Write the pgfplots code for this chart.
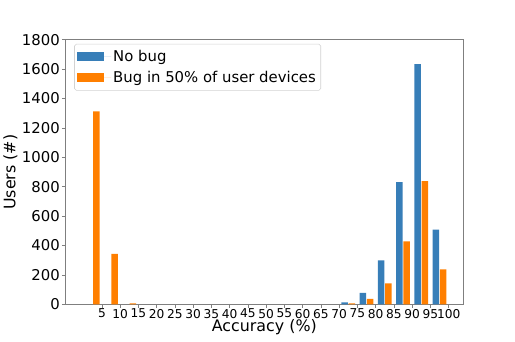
\documentclass[border=0pt]{standalone}
\usepackage{fontspec}
\setmainfont{DejaVu Sans}
\usepackage{pgfplots}
\pgfplotsset{compat=1.18}
\usetikzlibrary{calc}
\definecolor{nobug}{HTML}{377EB8}
\definecolor{withbug}{HTML}{FF7F00}
\definecolor{spine}{HTML}{7F7F7F}

\begin{document}
\begin{tikzpicture}[font=\fontsize{15}{17}\selectfont]
\begin{axis}[
    scale only axis,
    width=400bp, height=266bp,
    xmin=-5, xmax=104,
    ymin=0, ymax=1800,
    xtick={5,10,...,100},
    ytick={0,200,...,1800},
    tick align=outside,
    xtick pos=bottom, ytick pos=left,
    major tick length=3.5bp,
    axis line style={spine, line width=0.8pt},
    every tick/.style={spine, line width=0.8pt},
    xticklabel style={font=\fontsize{12.3}{14}\selectfont, inner sep=1pt},
    yticklabel style={font=\fontsize{15}{17}\selectfont, inner sep=2pt},
    /pgf/number format/assume math mode=true,
    /pgf/number format/1000 sep={},
    xlabel={Accuracy (\%)},
    ylabel={Users (\#)},
    label style={font=\fontsize{16}{18}\selectfont},
    xlabel style={inner sep=0pt},
    ylabel style={yshift=-1bp},
    ybar, bar width=1.8, bar shift=0pt,
    legend cell align=left,
    legend style={at={(0.022,0.985)}, anchor=north west,
        draw=gray!35, rounded corners=2pt, line width=0.6pt,
        font=\fontsize{15}{17}\selectfont,
        inner xsep=3pt, inner ysep=4.5pt, row sep=4pt},
    legend image code/.code={
        \fill[#1, sharp corners] (0bp,-4.5bp) rectangle (27bp,4.5bp);
        \path (0bp,0bp) -- (34bp,0bp);},
]
% No bug
\addplot[fill=nobug, draw=none] coordinates {
    (71.5,14) (76.5,79) (81.5,299) (86.5,831) (91.5,1635) (96.5,509)
};
% Bug in 50% of user devices
\addplot[fill=withbug, draw=none] coordinates {
    (3.5,1313) (8.5,344) (13.5,7) (73.5,7) (78.5,38) (83.5,143)
    (88.5,428) (93.5,838) (98.5,238)
};
\legend{No bug, Bug in 50\% of user devices}
\end{axis}
\path ($(current axis.south west)+(-63bp,-37bp)$) rectangle
      ($(current axis.north east)+(52bp,40bp)$);
\end{tikzpicture}
\end{document}
